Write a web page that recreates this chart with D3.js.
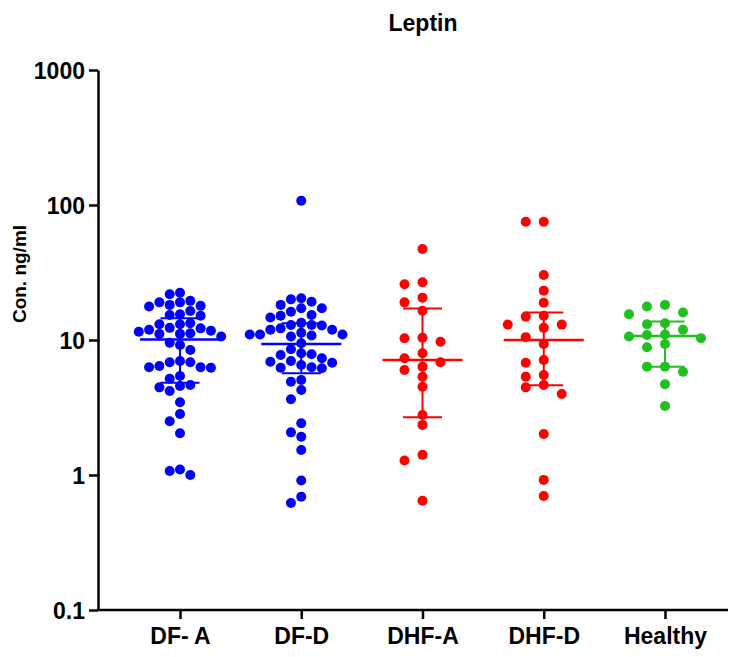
<!DOCTYPE html>
<html>
<head>
<meta charset="utf-8">
<script src="https://cdn.jsdelivr.net/npm/d3@7"></script>
<style>
  body { margin: 0; background: #fff; }
  svg text { font-family: "Liberation Sans", Arial, sans-serif; font-weight: bold; fill: #000; }
</style>
</head>
<body>
<div id="chart"></div>
<script>
// Leptin concentrations per group (ng/ml)
const categories = ['DF- A', 'DF-D', 'DHF-A', 'DHF-D', 'Healthy'];
const groupColors = ['#0000ff', '#0000ff', '#ff0000', '#ff0000', '#1fc01f'];

const dfA = [22.4, 21.8, 19.5, 19.0, 19.0, 18.2, 17.9, 17.7, 16.4, 15.5, 15.3, 15.1,
    13.3, 13.1, 13.1, 12.3, 12.2, 11.9, 11.7, 11.5, 11.2, 11.1, 11.1, 10.6,
    9.55, 9.18, 8.43, 6.99, 6.84, 6.84, 6.42, 6.28, 6.28, 6.23, 5.41, 5.17,
    4.64, 4.56, 4.46, 4.19, 3.46, 2.83, 2.50, 2.04, 1.10, 1.07, 1.00];
const dfD = [107.6, 20.4, 20.0, 19.2, 18.2, 17.2, 17.2, 16.2, 15.3, 15.1, 14.7, 13.4,
    12.9, 12.9, 12.8, 12.2, 11.9, 11.9, 11.3, 11.0, 11.0, 11.0, 10.8, 10.6,
    9.45, 8.53, 7.97, 7.84, 7.74, 7.32, 6.99, 6.91, 6.79, 6.53, 6.28, 6.23,
    6.17, 5.06, 4.91, 4.26, 3.64, 2.42, 2.07, 1.92, 1.53, 0.91, 0.69, 0.62];
const dhfA = [47.2, 26.8, 25.9, 20.6, 19.0, 16.5, 10.4, 10.3, 9.71, 7.97, 7.32, 6.84,
    6.35, 5.99, 5.35, 4.51, 2.78, 2.35, 1.41, 1.28, 0.645];
const dhfD = [75.2, 75.2, 30.3, 23.2, 18.9, 15.1, 14.9, 13.0, 13.0, 12.3, 10.5, 9.34,
    7.11, 6.79, 5.51, 5.35, 4.64, 4.46, 3.98, 2.01, 0.92, 0.70];
const healthy = [18.2, 17.7, 16.0, 15.5, 13.3, 13.1, 11.9, 11.0, 10.9, 10.6, 10.3,
    9.34, 8.83, 6.35, 6.35, 5.82, 4.70, 3.24];

// median with interquartile range, as drawn
const medians = [10.1, 9.34, 7.11, 10.0, 10.7];
const q1 = [4.83, 5.67, 2.68, 4.62, 6.35];
const q3 = [14.5, 13.3, 17.1, 16.0, 13.7];

const yTicks = [0.1, 1, 10, 100, 1000];

const groups = [dfA, dfD, dhfA, dhfD, healthy];

const width = 730;
const height = 657;
const axisX = 98;
const axisRight = 728;

// horizontal dot spacing per column (dense columns get squeezed)
const dotSpacing = [10.3, 10.3, 18, 18, 18];

const svg = d3.select('#chart')
    .append('svg')
    .attr('width', width)
    .attr('height', height);

const y = d3.scaleLog()
    .domain([0.1, 1000])
    .range([610, 70]);

const x = d3.scalePoint()
    .domain(categories)
    .range([180, 665]);

// Title
svg.append('text')
    .attr('x', 423)
    .attr('y', 31)
    .attr('text-anchor', 'middle')
    .style('font-size', '23px')
    .text('Leptin');

// Y axis label
svg.append('text')
    .attr('transform', 'translate(26,274) rotate(-90)')
    .attr('text-anchor', 'middle')
    .style('font-size', '19px')
    .text('Con. ng/ml');

// Y axis
const yAxis = svg.append('g')
    .attr('transform', `translate(${axisX},0)`)
    .call(d3.axisLeft(y)
        .tickValues(yTicks)
        .tickFormat(d => String(d))
        .tickSize(9)
        .tickSizeOuter(0)
        .tickPadding(4));
yAxis.select('.domain').attr('stroke-width', 2.5);
yAxis.selectAll('.tick line').attr('stroke-width', 2.5);
yAxis.selectAll('.tick text')
    .style('font-size', '23px')
    .attr('dy', '0.36em');

// X axis
const xAxis = svg.append('g')
    .attr('transform', 'translate(0,610)')
    .call(d3.axisBottom(x)
        .tickSize(9)
        .tickSizeOuter(0)
        .tickPadding(9));
xAxis.select('.domain').remove();
xAxis.selectAll('.tick line').attr('stroke-width', 2.5);
xAxis.selectAll('.tick text').style('font-size', '23px');
xAxis.append('line')
    .attr('x1', axisX - 1.25)
    .attr('x2', axisRight)
    .attr('stroke', '#000')
    .attr('stroke-width', 2.5);

// Scatter-dot layout: dots sit on a half-step lattice around the centre,
// two dots clash when closer than one spacing across and one row down
const r = 5;
const rowH = 9.5;

function swarm(values, cx, s) {
    const placed = [];
    values.forEach(v => {
        const py = y(v);
        const near = placed.filter(p => Math.abs(p.y - py) < rowH);
        const free = o => !near.some(p => Math.abs(p.x - (cx + o)) < s - 0.01);
        for (let k = 0; k < 40; k++) {
            let offs = k === 0 ? [0] : [-k * s / 2, k * s / 2];
            if (k > 0) {
                const left = near.filter(p => p.x < cx).length;
                const right = near.filter(p => p.x > cx).length;
                if (right < left) offs = offs.reverse();
            }
            const o = offs.find(free);
            if (o !== undefined) {
                placed.push({ x: cx + o, y: py, v: v });
                break;
            }
        }
    });
    return placed;
}

const plot = svg.append('g');

groups.forEach((vals, i) => {
    const cx = x(categories[i]);
    const color = groupColors[i];
    const pts = swarm(vals, cx, dotSpacing[i]);

    plot.append('g')
        .selectAll('circle')
        .data(pts)
        .join('circle')
        .attr('cx', d => d.x)
        .attr('cy', d => d.y)
        .attr('r', r)
        .attr('fill', color);

    // IQR bar
    plot.append('line')
        .attr('x1', cx).attr('x2', cx)
        .attr('y1', y(q3[i])).attr('y2', y(q1[i]))
        .attr('stroke', color).attr('stroke-width', 2);
    [q1[i], q3[i]].forEach(q => {
        plot.append('line')
            .attr('x1', cx - 19.5).attr('x2', cx + 19.5)
            .attr('y1', y(q)).attr('y2', y(q))
            .attr('stroke', color).attr('stroke-width', 2);
    });
    // median
    plot.append('line')
        .attr('x1', cx - 40).attr('x2', cx + 40)
        .attr('y1', y(medians[i])).attr('y2', y(medians[i]))
        .attr('stroke', color).attr('stroke-width', 2.5);
});
</script>
</body>
</html>
